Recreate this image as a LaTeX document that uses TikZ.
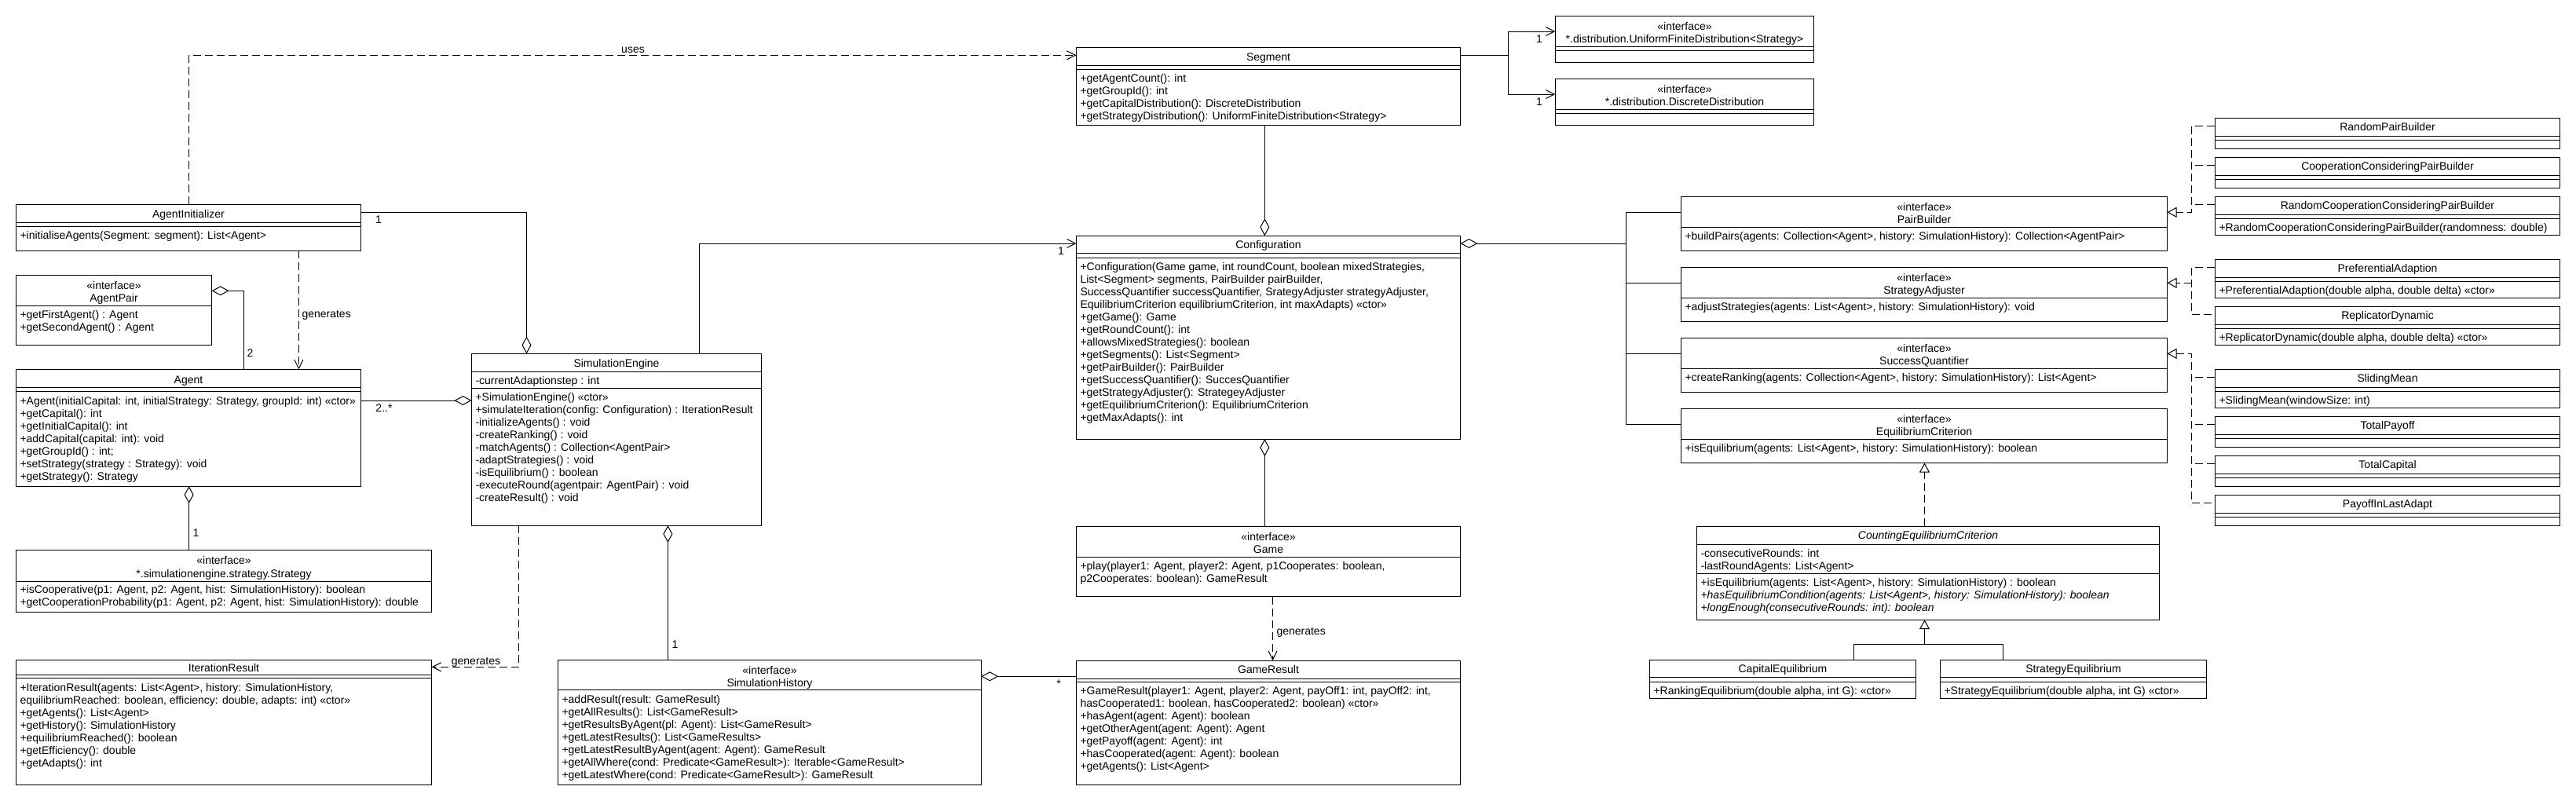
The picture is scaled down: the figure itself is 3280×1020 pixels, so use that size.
\documentclass[tikz,border=0pt]{standalone}
\usepackage{fontspec}
\setmainfont{Liberation Sans}
\usetikzlibrary{arrows.meta,fit}
\tikzset{
  cls/.style={draw, line width=1pt, inner sep=0pt, outer sep=0pt},
  mtxt/.style={anchor=base west, inner sep=0pt, font=\fontsize{14}{16}\selectfont},
  ttl/.style={anchor=base, inner sep=0pt, font=\fontsize{14}{16}\selectfont},
  lbl/.style={anchor=base, inner sep=0pt, font=\fontsize{14}{16}\selectfont},
  lblw/.style={anchor=base west, inner sep=0pt, font=\fontsize{14}{16}\selectfont},
  dep/.style={dash pattern=on 10pt off 5pt},
  aOpen/.style={-{Straight Barb[length=11pt,width=11pt]}},
  aDia/.style={-{Diamond[open,length=22pt,width=12pt]}},
  aDiaS/.style={{Diamond[open,length=22pt,width=12pt]}-},
  aTri/.style={-{Triangle[open,length=12pt,width=13pt]}},
  aTriS/.style={{Triangle[open,length=12pt,width=13pt]}-},
}
\newcommand\cbox[3]{\node[cls, fit={#2 #3}] (#1) {};}
\newcommand\hsep[2]{\draw (#1.west |- 0,#2) -- (#1.east |- 0,#2);}
\newcommand\mlines[4]{\foreach \ltxt [count=\lnum] in {#4} {\node[mtxt] (#1\lnum) at (#2,#3+16*\lnum-16) {\ltxt};}}
\begin{document}
\begin{tikzpicture}[x=1pt,y=-1pt,line width=1pt]
\fill[white] (0,0) rectangle (3280,1020);
\useasboundingbox (0,0) rectangle (3280,1020);

% ---------- AgentInitializer
\cbox{ai}{(20.5,260.3)}{(459.4,319.3)}
\hsep{ai}{283.7}\hsep{ai}{288.7}
\node[ttl] (ai-t) at (240,277) {AgentInitializer};
\mlines{ai-m}{25}{304.3}{{+initialiseAgents(Segment: segment): List<Agent>}}

% ---------- AgentPair
\cbox{ap}{(20.5,350.3)}{(269.6,439.3)}
\hsep{ap}{389.3}
\node[ttl] (ap-s) at (145,368.3) {«interface»};
\node[ttl] (ap-t) at (145,384.3) {AgentPair};
\mlines{ap-m}{25}{405}{{+getFirstAgent() : Agent},{+getSecondAgent() : Agent}}

% ---------- Agent
\cbox{ag}{(20.5,470.3)}{(459.4,619)}
\hsep{ag}{493.3}\hsep{ag}{498.3}
\node[ttl] (ag-t) at (240,488) {Agent};
\mlines{ag-m}{25}{515}{{+Agent(initialCapital: int, initialStrategy: Strategy, groupId: int) «ctor»},{+getCapital(): int},{+getInitialCapital(): int},{+addCapital(capital: int): void},{+getGroupId() : int;},{+setStrategy(strategy : Strategy): void},{+getStrategy(): Strategy}}

% ---------- Strategy
\cbox{st}{(20.5,700.7)}{(549.6,779.3)}
\hsep{st}{740}
\node[ttl] (st-s) at (285,718) {«interface»};
\node[ttl] (st-t) at (285,735) {*.simulationengine.strategy.Strategy};
\mlines{st-m}{25}{755.7}{{+isCooperative(p1: Agent, p2: Agent, hist: SimulationHistory): boolean},{+getCooperationProbability(p1: Agent, p2: Agent, hist: SimulationHistory): double}}

% ---------- IterationResult
\cbox{ir}{(20.5,840.3)}{(549.6,999)}
\hsep{ir}{859}\hsep{ir}{863.7}
\node[ttl] (ir-t) at (285,855) {IterationResult};
\mlines{ir-m}{25}{880}{{+IterationResult(agents: List<Agent>, history: SimulationHistory,},{equilibriumReached: boolean, efficiency: double, adapts: int) «ctor»},{+getAgents(): List<Agent>},{+getHistory(): SimulationHistory},{+equilibriumReached(): boolean},{+getEfficiency(): double},{+getAdapts(): int}}

% ---------- SimulationEngine
\cbox{se}{(600.5,450.5)}{(969.5,669)}
\hsep{se}{473.9}\hsep{se}{494.3}
\node[ttl] (se-t) at (785,467) {SimulationEngine};
\node[mtxt] (se-a) at (605,489.3) {-currentAdaptionstep : int};
\mlines{se-m}{605}{510.5}{{+SimulationEngine() «ctor»},{+simulateIteration(config: Configuration) : IterationResult},{-initializeAgents() : void},{-createRanking() : void},{-matchAgents() : Collection<AgentPair>},{-adaptStrategies() : void},{-isEquilibrium() : boolean},{-executeRound(agentpair: AgentPair) : void},{-createResult() : void}}

% ---------- SimulationHistory
\cbox{sh}{(710.3,840.4)}{(1249.3,999.2)}
\hsep{sh}{878.8}
\node[ttl] (sh-s) at (980,858.5) {«interface»};
\node[ttl] (sh-t) at (980,874.4) {SimulationHistory};
\mlines{sh-m}{715}{895.2}{{+addResult(result: GameResult)},{+getAllResults(): List<GameResult>},{+getResultsByAgent(pl: Agent): List<GameResult>},{+getLatestResults(): List<GameResults>},{+getLatestResultByAgent(agent: Agent): GameResult},{+getAllWhere(cond: Predicate<GameResult>): Iterable<GameResult>},{+getLatestWhere(cond: Predicate<GameResult>): GameResult}}

% ---------- Segment
\cbox{sg}{(1370.5,60.3)}{(1859.4,159.3)}
\hsep{sg}{83.3}\hsep{sg}{88.3}
\node[ttl] (sg-t) at (1615,77) {Segment};
\mlines{sg-m}{1375}{104.3}{{+getAgentCount(): int},{+getGroupId(): int},{+getCapitalDistribution(): DiscreteDistribution},{+getStrategyDistribution(): UniformFiniteDistribution<Strategy>}}

% ---------- distributions
\cbox{ufd}{(1980.4,20.3)}{(2309.4,79.3)}
\hsep{ufd}{59.7}\hsep{ufd}{64.3}
\node[ttl] (ufd-s) at (2145,38.7) {«interface»};
\node[ttl] (ufd-t) at (2145,54.3) {*.distribution.UniformFiniteDistribution<Strategy>};
\cbox{dd}{(1980.4,100.3)}{(2309.4,159.3)}
\hsep{dd}{139.7}\hsep{dd}{144.3}
\node[ttl] (dd-s) at (2145,118.7) {«interface»};
\node[ttl] (dd-t) at (2145,134.7) {*.distribution.DiscreteDistribution};

% ---------- Configuration
\cbox{cf}{(1370.5,300.3)}{(1859.4,559)}
\hsep{cf}{322.7}\hsep{cf}{328.3}
\node[ttl] (cf-t) at (1615,316.5) {Configuration};
\mlines{cf-m}{1375}{344.3}{{+Configuration(Game game, int roundCount, boolean mixedStrategies,},{List<Segment> segments, PairBuilder pairBuilder,},{SuccessQuantifier successQuantifier, SrategyAdjuster strategyAdjuster,},{EquilibriumCriterion equilibriumCriterion, int maxAdapts) «ctor»},{+getGame(): Game},{+getRoundCount(): int},{+allowsMixedStrategies(): boolean},{+getSegments(): List<Segment>},{+getPairBuilder(): PairBuilder},{+getSuccessQuantifier(): SuccesQuantifier},{+getStrategyAdjuster(): StrategeyAdjuster},{+getEquilibriumCriterion(): EquilibriumCriterion},{+getMaxAdapts(): int}}

% ---------- Game
\cbox{gm}{(1370.5,670.7)}{(1859.4,759.5)}
\hsep{gm}{709.7}
\node[ttl] (gm-s) at (1615,688.3) {«interface»};
\node[ttl] (gm-t) at (1615,704.4) {Game};
\mlines{gm-m}{1375}{725.4}{{+play(player1: Agent, player2: Agent, p1Cooperates: boolean,},{p2Cooperates: boolean): GameResult}}

% ---------- GameResult
\cbox{gr}{(1370.5,841)}{(1859.4,999)}
\hsep{gr}{864}\hsep{gr}{868.5}
\node[ttl] (gr-t) at (1615,857.5) {GameResult};
\mlines{gr-m}{1375}{884.2}{{+GameResult(player1: Agent, player2: Agent, payOff1: int, payOff2: int,},{hasCooperated1: boolean, hasCooperated2: boolean) «ctor»},{+hasAgent(agent: Agent): boolean},{+getOtherAgent(agent: Agent): Agent},{+getPayoff(agent: Agent): int},{+hasCooperated(agent: Agent): boolean},{+getAgents(): List<Agent>}}

% ---------- interfaces (right middle)
\cbox{pb}{(2140.6,250.3)}{(2759.5,319.3)}
\hsep{pb}{289.7}
\node[ttl] (pb-s) at (2450,268.7) {«interface»};
\node[ttl] (pb-t) at (2450,284.3) {PairBuilder};
\mlines{pb-m}{2145}{305.7}{{+buildPairs(agents: Collection<Agent>, history: SimulationHistory): Collection<AgentPair>}}

\cbox{sa}{(2140.6,340.3)}{(2759.5,409.3)}
\hsep{sa}{379.3}
\node[ttl] (sa-s) at (2450,358.7) {«interface»};
\node[ttl] (sa-t) at (2450,374.3) {StrategyAdjuster};
\mlines{sa-m}{2145}{395.7}{{+adjustStrategies(agents: List<Agent>, history: SimulationHistory): void}}

\cbox{sq}{(2140.6,430.3)}{(2759.5,499.3)}
\hsep{sq}{469.3}
\node[ttl] (sq-s) at (2450,448.7) {«interface»};
\node[ttl] (sq-t) at (2450,464.3) {SuccessQuantifier};
\mlines{sq-m}{2145}{485.7}{{+createRanking(agents: Collection<Agent>, history: SimulationHistory): List<Agent>}}

\cbox{ec}{(2140.6,520.3)}{(2759.5,589.5)}
\hsep{ec}{559.2}
\node[ttl] (ec-s) at (2450,538.4) {«interface»};
\node[ttl] (ec-t) at (2450,554.2) {EquilibriumCriterion};
\mlines{ec-m}{2145}{575.6}{{+isEquilibrium(agents: List<Agent>, history: SimulationHistory): boolean}}

% ---------- CountingEquilibriumCriterion
\cbox{cec}{(2160.7,670.1)}{(2749.5,789.2)}
\hsep{cec}{693.2}\hsep{cec}{730.3}
\node[ttl] (cec-t) at (2455,686.6) {\itshape CountingEquilibriumCriterion};
\mlines{cec-a}{2165}{709.5}{{-consecutiveRounds: int},{-lastRoundAgents: List<Agent>}}
\mlines{cec-m}{2165}{746}{{+isEquilibrium(agents: List<Agent>, history: SimulationHistory) : boolean},{\itshape +hasEquilibriumCondition(agents: List<Agent>, history: SimulationHistory): boolean},{\itshape +longEnough(consecutiveRounds: int): boolean}}

% ---------- subclasses
\cbox{ce}{(2100.5,840.2)}{(2439.3,889.4)}
\hsep{ce}{862.9}\hsep{ce}{868.1}
\node[ttl] (ce-t) at (2270,856.5) {CapitalEquilibrium};
\mlines{ce-m}{2105}{884.5}{{+RankingEquilibrium(double alpha, int G): «ctor»}}
\cbox{seq}{(2470.7,840.2)}{(2809.3,889.4)}
\hsep{seq}{862.9}\hsep{seq}{868.1}
\node[ttl] (seq-t) at (2640,856.5) {StrategyEquilibrium};
\mlines{seq-m}{2475}{884.5}{{+StrategyEquilibrium(double alpha, int G) «ctor»}}

% ---------- implementations (far right)
\cbox{rpb}{(2820.3,150.3)}{(3259.3,189.3)}
\hsep{rpb}{173.3}\hsep{rpb}{178.3}
\node[ttl] (rpb-t) at (3040,166.8) {RandomPairBuilder};
\cbox{ccpb}{(2820.3,200.3)}{(3259.3,239.3)}
\hsep{ccpb}{223.3}\hsep{ccpb}{228.3}
\node[ttl] (ccpb-t) at (3040,216.8) {CooperationConsideringPairBuilder};
\cbox{rccpb}{(2820.3,250.3)}{(3259.3,299.3)}
\hsep{rccpb}{273.3}\hsep{rccpb}{278.3}
\node[ttl] (rccpb-t) at (3040,266.8) {RandomCooperationConsideringPairBuilder};
\mlines{rccpb-m}{2825}{294.3}{{+RandomCooperationConsideringPairBuilder(randomness: double)}}
\cbox{pa}{(2820.3,330.3)}{(3259.3,379.3)}
\hsep{pa}{353.3}\hsep{pa}{358.3}
\node[ttl] (pa-t) at (3040,346.8) {PreferentialAdaption};
\mlines{pa-m}{2825}{374.3}{{+PreferentialAdaption(double alpha, double delta) «ctor»}}
\cbox{rd}{(2820.3,390.3)}{(3259.3,439.3)}
\hsep{rd}{413.3}\hsep{rd}{418.3}
\node[ttl] (rd-t) at (3040,406.8) {ReplicatorDynamic};
\mlines{rd-m}{2825}{434.3}{{+ReplicatorDynamic(double alpha, double delta) «ctor»}}
\cbox{sm}{(2820.3,470.3)}{(3259.3,519.3)}
\hsep{sm}{493.3}\hsep{sm}{498.3}
\node[ttl] (sm-t) at (3040,486.8) {SlidingMean};
\mlines{sm-m}{2825}{514.3}{{+SlidingMean(windowSize: int)}}
\cbox{tp}{(2820.3,530.3)}{(3259.3,569.3)}
\hsep{tp}{553.3}\hsep{tp}{558.3}
\node[ttl] (tp-t) at (3040,546.8) {TotalPayoff};
\cbox{tc}{(2820.3,580.3)}{(3259.3,619.3)}
\hsep{tc}{603.3}\hsep{tc}{608.3}
\node[ttl] (tc-t) at (3040,596.8) {TotalCapital};
\cbox{pil}{(2820.3,630.3)}{(3259.3,669.3)}
\hsep{pil}{653.3}\hsep{pil}{658.3}
\node[ttl] (pil-t) at (3040,646.8) {PayoffInLastAdapt};

% ================= connectors
% uses
\draw[dep,aOpen] (ai.north -| 240.6,0) |- (sg.west |- 0,70.3);
\node[lbl] (l-uses) at (806,67) {uses};
% AgentInitializer - SimulationEngine
\draw[aDia] (ai.east |- 0,270.3) -| (se.north -| 670.5,0);
\node[lbl] (l-ai1) at (482,284) {1};
% AgentInitializer generates Agent
\draw[dep,aOpen] (ai.south -| 380.4,0) -- (ag.north -| 380.4,0);
\node[lblw] (l-gen1) at (384,404) {generates};
% AgentPair - Agent
\draw[aDia] (ag.north -| 310.3,0) |- (ap.east |- 0,370.3);
\node[lblw] (l-ap2) at (314,454) {2};
% Agent - SimulationEngine
\draw[aDia] (ag.east |- 0,510) -- (se.west |- 0,510);
\node[lbl] (l-ag2) at (489,524) {2..*};
% Strategy - Agent
\draw[aDia] (st.north -| 240.6,0) -- (ag.south -| 240.6,0);
\node[lblw] (l-st1) at (245,683) {1};
% SimulationEngine generates IterationResult
\draw[dep,aOpen] (se.south -| 660.5,0) |- (ir.east |- 0,849.3);
\node[lbl] (l-gen2) at (606,846) {generates};
% SimulationEngine - Configuration
\draw[aOpen] (se.north -| 890.6,0) |- (cf.west |- 0,310);
\node[lbl] (l-cf1) at (1351,324) {1};
% SimulationHistory - SimulationEngine
\draw[aDia] (sh.north -| 850.4,0) -- (se.south -| 850.4,0);
\node[lblw] (l-sh1) at (855,825) {1};
% SimulationHistory - GameResult
\draw[aDiaS] (sh.east |- 0,861.3) -- (gr.west |- 0,861.3);
\node[lbl] (l-grs) at (1348,875) {*};
% Segment - Configuration
\draw[aDia] (sg.south -| 1610.3,0) -- (cf.north -| 1610.3,0);
% Segment - distributions
\coordinate (sgj) at (1920.5,70.3);
\draw (sg.east |- sgj) -- (sgj);
\draw[aOpen] (sgj) |- (ufd.west |- 0,40);
\draw[aOpen] (sgj) |- (dd.west |- 0,120);
\node[lbl] (l-ufd1) at (1960,54) {1};
\node[lbl] (l-dd1) at (1960,134) {1};
% Game - Configuration
\draw[aDia] (gm.north -| 1610.3,0) -- (cf.south -| 1610.3,0);
% Game generates GameResult
\draw[dep,aOpen] (gm.south -| 1620.5,0) -- (gr.north -| 1620.5,0);
\node[lblw] (l-gen3) at (1625,808.5) {generates};
% Configuration - strategy interfaces
\coordinate (bus) at (2070.5,310);
\draw[aDiaS] (cf.east |- bus) -- (bus);
\draw (pb.west |- 0,270.3) -| (2070.5,540.3) -- (ec.west |- 0,540.3);
\draw (sa.west |- 0,360.3) -- (2070.5,360.3);
\draw (sq.west |- 0,450.3) -- (2070.5,450.3);
% realizations PairBuilder
\draw[dep,aTri] (rpb.west |- 0,160.3) -| (2790.7,270.3) -- (pb.east |- 0,270.3);
\draw[dep] (ccpb.west |- 0,210.3) -- (2790.7,210.3);
\draw[dep] (rccpb.west |- 0,260.3) -- (2790.7,260.3);
% realizations StrategyAdjuster
\draw[dep] (pa.west |- 0,340.3) -| (2790.7,400.3) -- (rd.west |- 0,400.3);
\draw[dep,aTri] (2790.7,360.3) -- (sa.east |- 0,360.3);
% realizations SuccessQuantifier
\draw[dep,aTriS] (sq.east |- 0,450.3) -| (2790.7,640.3) -- (pil.west |- 0,640.3);
\draw[dep] (sm.west |- 0,480.3) -- (2790.7,480.3);
\draw[dep] (tp.west |- 0,540.3) -- (2790.7,540.3);
\draw[dep] (tc.west |- 0,590.3) -- (2790.7,590.3);
% realization EquilibriumCriterion
\draw[dep,aTri] (cec.north -| 2450.5,0) -- (ec.south -| 2450.5,0);
% generalization
\coordinate (genj) at (2450.5,820.2);
\draw[aTri] (ce.north -| 2360.7,0) |- (genj) -- (cec.south -| genj);
\draw (seq.north -| 2550.5,0) |- (genj);
\end{tikzpicture}
\end{document}
